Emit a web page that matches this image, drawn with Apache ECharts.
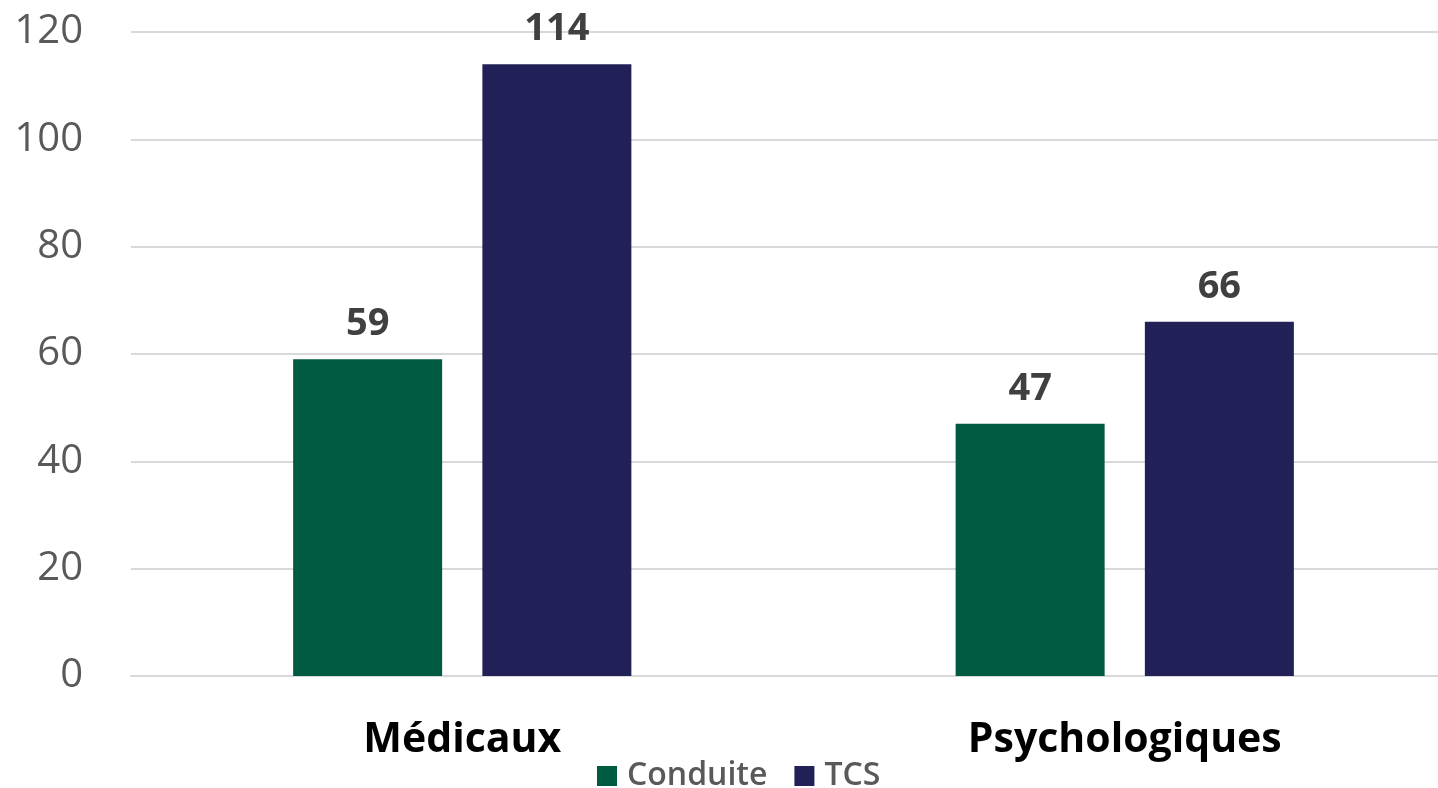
<!DOCTYPE html>
<html>
<head>
<meta charset="utf-8">
<script src="https://cdn.jsdelivr.net/npm/echarts@6/dist/echarts.min.js"></script>
<style>html,body{margin:0;padding:0;background:#fff;overflow:hidden}#c{width:1456px;height:788px}</style>
</head>
<body>
<div id="c"></div>
<script>
const categories = ['Médicaux', 'Psychologiques'];
const conduite = [59, 47];
const tcs = [114, 66];
const yTicks = [0, 20, 40, 60, 80, 100, 120];

const FONT = '"Open Sans", "Noto Sans", sans-serif';
const chart = echarts.init(document.getElementById('c'), null, {renderer: 'canvas'});
const labelStyle = {
  show: true, position: 'top', distance: 16,
  fontFamily: FONT, fontSize: 38, fontWeight: 'bold', color: '#404040'
};
chart.setOption({
  animation: false,
  grid: {left: 131, right: 0, top: 32, bottom: 112, containLabel: false},
  legend: {
    data: ['Conduite', 'TCS'],
    left: 592, top: 755,
    itemWidth: 20, itemHeight: 20, itemGap: 27,
    icon: 'rect',
    textStyle: {fontFamily: FONT, fontSize: 32, fontWeight: 600, color: '#595959', padding: [0, 0, 0, 5]}
  },
  xAxis: {
    type: 'category', data: categories,
    axisLine: {show: true, lineStyle: {color: '#d9d9d9', width: 2}},
    axisTick: {show: false},
    axisLabel: {fontFamily: FONT, fontSize: 41, fontWeight: 'bold', color: '#000', margin: 44}
  },
  yAxis: {
    type: 'value', min: yTicks[0], max: yTicks[yTicks.length - 1], interval: 20,
    axisLine: {show: false}, axisTick: {show: false},
    splitLine: {lineStyle: {color: '#d9d9d9', width: 2}},
    axisLabel: {fontFamily: FONT, fontSize: 40, color: '#595959', margin: 48}
  },
  series: [
    {name: 'Conduite', type: 'bar', data: conduite, itemStyle: {color: '#005A41'},
     barWidth: 149, barGap: '27%', label: labelStyle},
    {name: 'TCS', type: 'bar', data: tcs, itemStyle: {color: '#212157'},
     barWidth: 149, barGap: '27%', label: labelStyle}
  ]
});
</script>
</body>
</html>
